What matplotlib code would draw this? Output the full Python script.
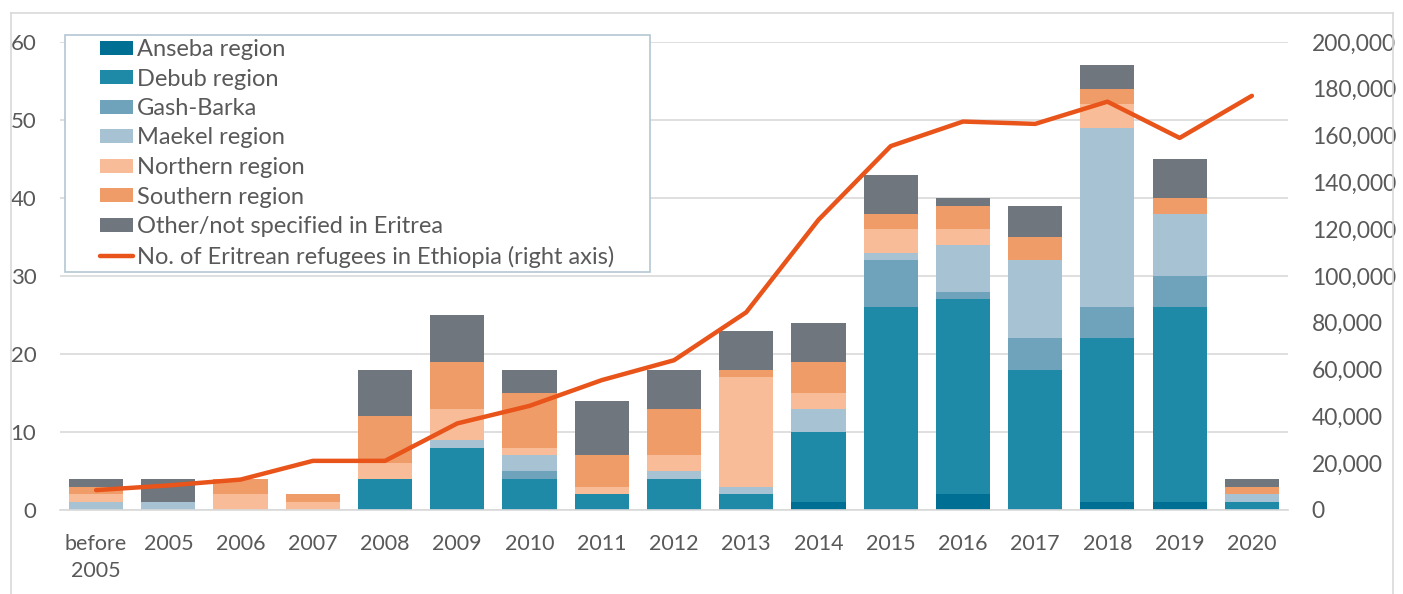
import matplotlib
matplotlib.use("Agg")
import matplotlib.pyplot as plt
from matplotlib.patches import Rectangle, Patch
from matplotlib.lines import Line2D
from matplotlib.ticker import FuncFormatter, MultipleLocator
import numpy as np

plt.rcParams['font.family'] = ['Lato', 'DejaVu Sans']

categories = ["before\n2005", "2005", "2006", "2007", "2008", "2009", "2010", "2011",
              "2012", "2013", "2014", "2015", "2016", "2017", "2018", "2019", "2020"]

anseba   = [0, 0, 0, 0, 0, 0, 0, 0, 0, 0, 1, 0, 2, 0, 1, 1, 0]
debub    = [0, 0, 0, 0, 4, 8, 4, 2, 4, 2, 9, 26, 25, 18, 21, 25, 1]
gash     = [0, 0, 0, 0, 0, 0, 1, 0, 0, 0, 0, 6, 1, 4, 4, 4, 0]
maekel   = [1, 1, 0, 0, 0, 1, 2, 0, 1, 1, 3, 1, 6, 10, 23, 8, 1]
northern = [1, 0, 2, 1, 2, 4, 1, 1, 2, 14, 2, 3, 2, 0, 3, 0, 0]
southern = [1, 0, 2, 1, 6, 6, 7, 4, 6, 1, 4, 2, 3, 3, 2, 2, 1]
other    = [1, 3, 0, 0, 6, 6, 3, 7, 5, 5, 5, 5, 1, 4, 3, 5, 1]

refugees = [8500, 10500, 13000, 21000, 21000, 37000, 44500, 55500, 64000, 84500,
            124000, 155500, 166000, 165000, 174500, 159000, 177000]

series_names = ["Anseba region", "Debub region", "Gash-Barka", "Maekel region",
                "Northern region", "Southern region", "Other/not specified in Eritrea"]
series_vals = [anseba, debub, gash, maekel, northern, southern, other]
colors = ["#006f94", "#1f8aa8", "#6fa3bb", "#a6c2d3", "#f8bd98", "#f09c68", "#6f767d"]
line_color = "#e8541a"
text_color = "#595959"
grid_color = "#d9d9d9"

W, H = 1403, 594
fig = plt.figure(figsize=(W / 100, H / 100), dpi=100)

# outer border
for xs, ys in [((11, 1393), (13, 13)), ((11, 11), (13, 594)), ((1393, 1393), (13, 594))]:
    fig.add_artist(Line2D([x / W for x in xs], [1 - y / H for y in ys],
                          color=grid_color, lw=1.2, transform=fig.transFigure))

ax = fig.add_axes([60 / W, (H - 510) / H, (1288 - 60) / W, (510 - 42) / H])
x = np.arange(len(categories))
bottom = np.zeros(len(categories))
for name, vals, c in zip(series_names, series_vals, colors):
    ax.bar(x, vals, width=0.75, bottom=bottom, color=c, zorder=2, label=name)
    bottom += np.array(vals)

ax.set_xlim(-0.5, len(categories) - 0.5)
ax.set_ylim(0, 60)
ax.yaxis.set_major_locator(MultipleLocator(10))
ax.grid(axis='y', color=grid_color, lw=1.2, zorder=0)
ax.set_axisbelow(True)
for s in ["top", "right", "left"]:
    ax.spines[s].set_visible(False)
ax.spines["bottom"].set_color(grid_color)
ax.spines["bottom"].set_linewidth(1.2)
ax.set_xticks(x)
ax.set_xticklabels(categories, fontsize=15.5, color=text_color, linespacing=1.45)
ax.tick_params(axis='x', length=0, pad=17)
ax.tick_params(axis='y', length=0, pad=17, labelsize=16, labelcolor=text_color)

ax2 = ax.twinx()
ax2.plot(x, refugees, color=line_color, lw=3.2, zorder=3, solid_capstyle='round')
ax2.set_ylim(0, 200000)
ax2.yaxis.set_major_locator(MultipleLocator(20000))
ax2.yaxis.set_major_formatter(FuncFormatter(lambda v, p: f"{int(v):,}"))
ax2.tick_params(axis='y', length=0, pad=17, labelsize=16.5, labelcolor=text_color)
for s in ["top", "right", "left", "bottom"]:
    ax2.spines[s].set_visible(False)

# legend frame
fig.add_artist(Rectangle((65 / W, 1 - 272 / H), (650 - 65) / W, (272 - 35) / H,
                         transform=fig.transFigure, facecolor='white',
                         edgecolor='#b4c7d3', lw=1.2, zorder=5))
handles = [Patch(facecolor=c, edgecolor='none') for c in colors]
handles.append(Line2D([0], [0], color=line_color, lw=3.2, solid_capstyle='round'))
labels = series_names + ["No. of Eritrean refugees in Ethiopia (right axis)"]
leg = fig.legend(handles, labels, loc='upper left',
                 bbox_to_anchor=(100 / W, 1 - 39 / H), bbox_transform=fig.transFigure,
                 frameon=False, fontsize=17, handlelength=1.4, handleheight=0.53,
                 handletextpad=0.15, labelspacing=0.36, borderpad=0, borderaxespad=0)
leg.set_zorder(6)
for t in leg.get_texts():
    t.set_color(text_color)

fig.savefig("out.png", dpi=100, facecolor='white')
